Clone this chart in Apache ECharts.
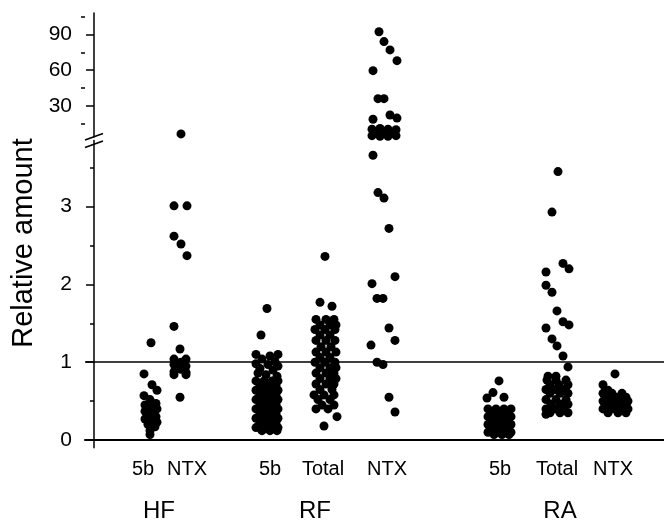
<!DOCTYPE html>
<html>
<head>
<meta charset="utf-8">
<script src="https://cdn.jsdelivr.net/npm/echarts@6/dist/echarts.min.js"></script>
<style>
  html, body { margin: 0; padding: 0; background: #fff; }
  #chart { width: 664px; height: 520px; }
</style>
</head>
<body>
<div id="chart"></div>
<script>
// x position of each column (axis units), column labels and group labels
const catPos = [4.9, 9.3, 17.6, 22.9, 29.3, 40.6, 46.3, 51.9];
const catLabels = ['5b', 'NTX', '5b', 'Total', 'NTX', '5b', 'Total', 'NTX'];
const groupPos = [6.5, 22.1, 46.6];
const groupLabels = ['HF', 'RF', 'RA'];

// tick labels
const upperTicks = [30, 60, 90];
const upperMinor = [15, 45, 75, 105];
const lowerTicks = [0, 1, 2, 3];
const lowerMinor = [0.5, 1.5, 2.5, 3.5];
const breakValue = 3.9;

// points per column: [x, relative amount]
const hf5b = [
  [5.7, 1.25], [5.0, 0.85], [5.8, 0.71], [6.3, 0.64], [5.0, 0.57], [5.6, 0.52], [6.2, 0.47],
  [5.1, 0.45], [5.8, 0.42], [6.3, 0.40], [5.1, 0.37], [6.0, 0.35], [5.4, 0.32], [6.2, 0.30],
  [5.1, 0.27], [5.8, 0.25], [6.3, 0.23], [5.4, 0.20], [6.1, 0.17], [5.6, 0.12], [5.6, 0.07]
];
const hfNtx = [
  [8.7, 6.5], [8.0, 3.01], [9.3, 3.01], [8.0, 2.62], [8.7, 2.52], [9.3, 2.37], [8.0, 1.46],
  [8.6, 1.17], [8.0, 1.04], [9.2, 1.04], [8.7, 1.0], [8.0, 0.97], [9.2, 0.95], [8.7, 0.91],
  [8.0, 0.88], [9.2, 0.87], [8.0, 0.84], [9.2, 0.84], [8.6, 0.55]
];
const rf5b = [
  [17.3, 1.69], [16.7, 1.35],
  [16.2, 1.10], [17.6, 1.08], [18.4, 1.10], [16.8, 1.04], [18.1, 1.01], [16.2, 0.98],
  [17.4, 0.97], [18.4, 0.95], [16.6, 0.92], [17.9, 0.90], [16.4, 0.86], [17.2, 0.84], [18.3, 0.82],
  [16.2, 0.76], [17.0, 0.76], [17.8, 0.76], [18.4, 0.76],
  [16.6, 0.70], [17.4, 0.70], [18.2, 0.70],
  [16.2, 0.64], [17.0, 0.64], [17.8, 0.64], [18.4, 0.64],
  [16.6, 0.58], [17.4, 0.58], [18.2, 0.58],
  [16.2, 0.52], [17.0, 0.52], [17.8, 0.52], [18.4, 0.52],
  [16.6, 0.46], [17.4, 0.46], [18.2, 0.46],
  [16.2, 0.40], [17.0, 0.40], [17.8, 0.40], [18.4, 0.40],
  [16.6, 0.34], [17.4, 0.34], [18.2, 0.34],
  [16.2, 0.28], [17.0, 0.28], [17.8, 0.28], [18.4, 0.28],
  [16.6, 0.22], [17.4, 0.22], [18.2, 0.22],
  [16.2, 0.16], [17.0, 0.16], [17.8, 0.16], [18.4, 0.16],
  [16.8, 0.12], [17.6, 0.12], [18.3, 0.12]
];
const rfTotal = [
  [23.1, 2.36], [22.6, 1.77], [23.8, 1.72],
  [22.2, 1.55], [23.2, 1.55], [24.0, 1.55],
  [22.6, 1.48], [23.6, 1.48], [24.2, 1.48],
  [22.1, 1.42], [23.1, 1.42], [24.1, 1.42],
  [22.6, 1.35], [23.6, 1.35],
  [22.2, 1.28], [23.2, 1.28], [24.1, 1.28],
  [22.7, 1.20], [23.7, 1.20],
  [22.2, 1.13], [23.2, 1.13], [24.2, 1.13],
  [22.6, 1.06], [23.6, 1.06],
  [22.1, 1.00], [23.1, 1.00], [24.1, 1.00],
  [22.6, 0.93], [23.6, 0.93], [24.2, 0.93],
  [22.2, 0.86], [23.2, 0.86], [24.0, 0.86],
  [22.6, 0.79], [23.6, 0.79], [24.2, 0.79],
  [22.2, 0.72], [23.2, 0.72], [24.0, 0.72],
  [22.6, 0.65], [23.8, 0.65],
  [22.0, 0.58], [23.0, 0.58], [24.0, 0.58],
  [22.4, 0.52], [23.6, 0.52],
  [22.8, 0.45], [24.0, 0.45],
  [22.2, 0.40], [23.4, 0.40],
  [24.3, 0.30], [23.0, 0.18]
];
const rfNtx = [
  [28.5, 92.3], [29.0, 84.0], [29.6, 77.0], [30.3, 68.0], [27.9, 59.6], [28.4, 36.1], [29.0, 36.1],
  [27.9, 18.8], [29.6, 22.4], [30.3, 19.8],
  [27.8, 10.5], [28.6, 11.0], [29.4, 10.5], [30.2, 10.0],
  [28.2, 7.5], [29.0, 7.5], [29.8, 7.5],
  [27.8, 5.0], [28.6, 4.5], [29.4, 4.5], [30.2, 5.0],
  [27.9, 3.66], [28.4, 3.18], [29.0, 3.11], [29.5, 2.72], [30.1, 2.10], [27.8, 2.01], [28.3, 1.82],
  [28.9, 1.82], [29.5, 1.44], [30.1, 1.28], [27.7, 1.22], [28.3, 1.0], [28.9, 0.97], [29.5, 0.55],
  [30.1, 0.36]
];
const ra5b = [
  [40.5, 0.76], [39.9, 0.61], [39.3, 0.54], [41.0, 0.55],
  [39.4, 0.40], [40.2, 0.40], [41.0, 0.40], [41.7, 0.40],
  [39.8, 0.35], [40.6, 0.35], [41.4, 0.35],
  [39.4, 0.30], [40.2, 0.30], [41.0, 0.30], [41.7, 0.30],
  [39.8, 0.25], [40.6, 0.25], [41.4, 0.25],
  [39.4, 0.20], [40.2, 0.20], [41.0, 0.20], [41.7, 0.20],
  [39.8, 0.15], [40.6, 0.15], [41.4, 0.15],
  [39.4, 0.10], [40.2, 0.10], [41.0, 0.10], [41.7, 0.10],
  [40.0, 0.07], [40.8, 0.07], [41.5, 0.07]
];
const raTotal = [
  [46.4, 3.45], [45.8, 2.93], [46.9, 2.27], [47.5, 2.20], [45.2, 2.16], [45.2, 1.99], [45.8, 1.90],
  [46.3, 1.66], [46.9, 1.52], [47.5, 1.48], [45.2, 1.44], [45.8, 1.30], [46.3, 1.21], [46.9, 1.08],
  [47.4, 0.94],
  [45.4, 0.82], [46.2, 0.82],
  [45.3, 0.77], [46.2, 0.77], [47.2, 0.77],
  [45.6, 0.71], [46.5, 0.71], [47.4, 0.71],
  [45.2, 0.65], [46.1, 0.65], [47.0, 0.65],
  [45.6, 0.60], [46.6, 0.60], [47.4, 0.60],
  [45.2, 0.52], [46.2, 0.52], [47.2, 0.52],
  [45.7, 0.46], [46.6, 0.46], [47.4, 0.46],
  [45.2, 0.40], [46.1, 0.40], [47.0, 0.40],
  [45.6, 0.35], [46.6, 0.35], [47.4, 0.35],
  [45.2, 0.33]
];
const raNtx = [
  [52.1, 0.85], [50.9, 0.71], [51.4, 0.64],
  [50.9, 0.60], [51.8, 0.60], [52.8, 0.60],
  [51.3, 0.55], [52.3, 0.55], [53.2, 0.55],
  [50.9, 0.50], [51.8, 0.50], [52.8, 0.50], [53.4, 0.50],
  [51.3, 0.45], [52.3, 0.45], [53.2, 0.45],
  [50.9, 0.40], [51.8, 0.40], [52.8, 0.40], [53.4, 0.40],
  [51.4, 0.35], [52.4, 0.35], [53.2, 0.35]
];

const allPoints = [].concat(hf5b, hfNtx, rf5b, rfTotal, rfNtx, ra5b, raTotal, raNtx);
const upperPoints = allPoints.filter(p => p[1] >= breakValue);
const lowerPoints = allPoints.filter(p => p[1] < breakValue);

const FONT = "'Liberation Sans', Arial, sans-serif";
const INK = '#000';

const xBase = { type: 'value', min: -0.9, max: 57, splitLine: { show: false } };

const majorY = (gridIndex, min, max, ticks) => ({
  type: 'value', gridIndex, min, max, position: 'left',
  splitLine: { show: false },
  axisLine: { show: true, onZero: true, lineStyle: { color: INK, width: 1.5 } },
  axisTick: { show: true, length: 8, customValues: ticks, lineStyle: { color: INK, width: 1.5 } },
  axisLabel: { customValues: ticks, margin: 13, color: INK, fontSize: 21, fontFamily: FONT }
});
const minorY = (gridIndex, min, max, ticks) => ({
  type: 'value', gridIndex, min, max, position: 'left',
  splitLine: { show: false },
  axisLine: { show: false, onZero: true },
  axisTick: { show: true, length: 4, customValues: ticks, lineStyle: { color: INK, width: 1.5 } },
  axisLabel: { show: false }
});

const dotStyle = { color: '#000', opacity: 1 };

const chart = echarts.init(document.getElementById('chart'));
chart.setOption({
  animation: false,
  backgroundColor: '#fff',
  grid: [
    { left: 85, right: 0, top: 13, height: 124, outerBoundsMode: 'none' },
    { left: 85, right: 0, top: 140.5, height: 307.3, outerBoundsMode: 'none' }
  ],
  xAxis: [
    Object.assign({}, xBase, { gridIndex: 0, show: false }),
    Object.assign({}, xBase, {
      gridIndex: 1, position: 'bottom',
      axisLine: { onZero: true, lineStyle: { color: INK, width: 2 } },
      axisTick: { show: false },
      axisLabel: {
        customValues: catPos, margin: 12, color: INK, fontSize: 20, fontFamily: FONT,
        formatter: v => catLabels[catPos.indexOf(v)]
      }
    }),
    Object.assign({}, xBase, {
      gridIndex: 1, position: 'bottom',
      axisLine: { show: false, onZero: true },
      axisTick: { show: false },
      axisLabel: {
        customValues: groupPos, margin: 52, color: INK, fontSize: 24, fontFamily: FONT,
        formatter: v => groupLabels[groupPos.indexOf(v)]
      }
    })
  ],
  yAxis: [
    majorY(0, breakValue, 108, upperTicks),
    minorY(0, breakValue, 108, upperMinor),
    majorY(1, -0.1, 3.85, lowerTicks),
    minorY(1, -0.1, 3.85, lowerMinor)
  ],
  series: [
    {
      type: 'scatter', xAxisIndex: 0, yAxisIndex: 0, data: upperPoints,
      symbol: 'circle', symbolSize: 9, itemStyle: dotStyle, silent: true
    },
    {
      type: 'scatter', xAxisIndex: 1, yAxisIndex: 2, data: lowerPoints,
      symbol: 'circle', symbolSize: 9, itemStyle: dotStyle, silent: true,
      markLine: {
        silent: true, symbol: 'none', label: { show: false },
        lineStyle: { color: INK, width: 1.5, type: 'solid' },
        data: [{ yAxis: 1 }]
      }
    }
  ],
  graphic: [
    {
      type: 'text', x: 24, y: 243, rotation: Math.PI / 2,
      style: {
        text: 'Relative amount', font: "29px " + FONT, fill: INK,
        textAlign: 'center', textVerticalAlign: 'middle'
      }
    },
    // axis break marks
    { type: 'line', shape: { x1: 85, y1: 140, x2: 103, y2: 133.5 }, style: { stroke: INK, lineWidth: 1.6 } },
    { type: 'line', shape: { x1: 85, y1: 147.5, x2: 103, y2: 141 }, style: { stroke: INK, lineWidth: 1.6 } }
  ]
});
</script>
</body>
</html>
